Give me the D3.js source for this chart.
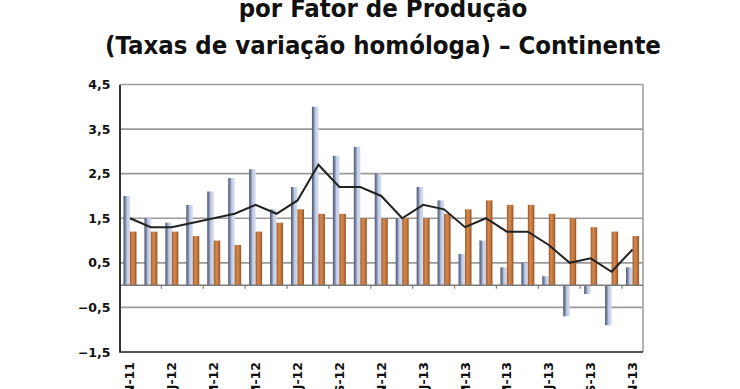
<!DOCTYPE html>
<html><head><meta charset="utf-8">
<script src="https://cdn.jsdelivr.net/npm/d3@7/dist/d3.min.js"></script>
<style>
html,body{margin:0;padding:0;background:#fff;overflow:hidden;}
svg{display:block;}
</style></head>
<body>
<script>
// ---- data ----
const categories = ["N-11","D-11","J-12","F-12","M-12","A-12","M-12","J-12","J-12","A-12","S-12","O-12","N-12","D-12","J-13","F-13","M-13","A-13","M-13","J-13","J-13","A-13","S-13","O-13","N-13"];
const xTickLabels = ["N-11","J-12","M-12","M-12","J-12","S-12","N-12","J-13","M-13","M-13","J-13","S-13","N-13"];
const seriesBlue   = [2.0,1.5,1.4,1.8,2.1,2.4,2.6,1.7,2.2,4.0,2.9,3.1,2.5,1.5,2.2,1.9,0.7,1.0,0.4,0.5,0.2,-0.7,-0.2,-0.9,0.4];
const seriesOrange = [1.2,1.2,1.2,1.1,1.0,0.9,1.2,1.4,1.7,1.6,1.6,1.5,1.5,1.5,1.5,1.6,1.7,1.9,1.8,1.8,1.6,1.5,1.3,1.2,1.1];
const seriesTotal  = [1.5,1.3,1.3,1.4,1.5,1.6,1.8,1.6,1.9,2.7,2.2,2.2,2.0,1.5,1.8,1.7,1.3,1.5,1.2,1.2,0.9,0.5,0.6,0.3,0.8];
const yTicks = [-1.5,-0.5,0.5,1.5,2.5,3.5,4.5];
const titleLines = ["por Fator de Produção","(Taxas de variação homóloga) – Continente"];

// ---- layout ----
const W = 740, H = 389;
const L = 119.5, R = 643, T = 84.5, B = 352;
const svg = d3.select("body").append("svg").attr("width", W).attr("height", H);

const x = d3.scaleBand().domain(d3.range(categories.length)).range([L, R]).padding(0);
const y = d3.scaleLinear().domain([-1.5, 4.5]).range([B, T]);
const bw = 6.5;

// gradients
const defs = svg.append("defs");
const gb = defs.append("linearGradient").attr("id","gBlue").attr("x1","0").attr("x2","1").attr("y1","0").attr("y2","0");
gb.append("stop").attr("offset","0").attr("stop-color","#4f5872");
gb.append("stop").attr("offset","0.3").attr("stop-color","#7d88a6");
gb.append("stop").attr("offset","0.55").attr("stop-color","#c3cde6");
gb.append("stop").attr("offset","1").attr("stop-color","#d3dcf0");
const go = defs.append("linearGradient").attr("id","gOrange").attr("x1","0").attr("x2","1").attr("y1","0").attr("y2","0");
go.append("stop").attr("offset","0").attr("stop-color","#a65a26");
go.append("stop").attr("offset","0.4").attr("stop-color","#d08a52");
go.append("stop").attr("offset","0.7").attr("stop-color","#c0743c");
go.append("stop").attr("offset","1").attr("stop-color","#9a5020");

// title
svg.append("g").selectAll("text").data(titleLines).join("text")
  .attr("x", 383).attr("y", (d,i) => i === 0 ? 16.5 : 53.5)
  .attr("text-anchor","middle")
  .attr("font-family","'DejaVu Sans Condensed','DejaVu Sans',sans-serif")
  .attr("font-weight","bold").attr("font-size", 25.5).attr("fill","#111")
  .text(d => d);

// gridlines
svg.append("g").selectAll("line").data(yTicks.filter(v => v > -1.5)).join("line")
  .attr("x1", L).attr("x2", R).attr("y1", d => y(d)).attr("y2", d => y(d))
  .attr("stroke","#9a9a9a").attr("stroke-width",1.6);

// right border
svg.append("line").attr("x1",R).attr("x2",R).attr("y1",T).attr("y2",B)
  .attr("stroke","#a0a0a0").attr("stroke-width",1.6);

// bars
svg.append("g").selectAll("rect").data(seriesBlue).join("rect")
  .attr("x", (d,i) => x(i) + x.bandwidth()/2 - bw)
  .attr("width", bw)
  .attr("y", d => y(Math.max(0,d)))
  .attr("height", d => Math.abs(y(d) - y(0)))
  .attr("fill","url(#gBlue)");
svg.append("g").selectAll("rect").data(seriesOrange).join("rect")
  .attr("x", (d,i) => x(i) + x.bandwidth()/2)
  .attr("width", bw)
  .attr("y", d => y(Math.max(0,d)))
  .attr("height", d => Math.abs(y(d) - y(0)))
  .attr("fill","url(#gOrange)");

// zero axis with ticks
svg.append("line").attr("x1",L).attr("x2",R).attr("y1",y(0)).attr("y2",y(0))
  .attr("stroke","#7a7a7a").attr("stroke-width",1.5);
svg.append("g").selectAll("line").data(d3.range(2, categories.length, 2)).join("line")
  .attr("x1", d => x(d)).attr("x2", d => x(d))
  .attr("y1", y(0)).attr("y2", y(0) + 3.5)
  .attr("stroke","#7a7a7a").attr("stroke-width",1.2);

// line series
svg.append("path").datum(seriesTotal)
  .attr("d", d3.line().x((d,i) => x(i) + x.bandwidth()/2).y(d => y(d)))
  .attr("fill","none").attr("stroke","#222").attr("stroke-width",2);

// bottom border
svg.append("line").attr("x1",L).attr("x2",R).attr("y1",B).attr("y2",B)
  .attr("stroke","#555").attr("stroke-width",2);

// y axis
const yAxis = d3.axisLeft(y).tickValues(yTicks).tickSize(0).tickPadding(9)
  .tickFormat(d => d3.format(".1f")(d).replace(".", ","));
const ga = svg.append("g").attr("transform", `translate(${L},0)`).call(yAxis);
ga.select(".domain").attr("stroke","#333").attr("stroke-width",2);
ga.selectAll("text").attr("font-family","'DejaVu Sans',sans-serif")
  .attr("font-weight","bold").attr("font-size",12.5).attr("fill","#111");

// x labels
svg.append("g").selectAll("text").data(xTickLabels).join("text")
  .attr("transform", (d,i) => `translate(${x(i*2) + x.bandwidth()/2},362) rotate(-90)`)
  .attr("text-anchor","end").attr("dy","0.36em")
  .attr("font-family","'DejaVu Sans',sans-serif")
  .attr("font-weight","bold").attr("font-size",12.5).attr("fill","#111")
  .text(d => d);
</script>
</body></html>
